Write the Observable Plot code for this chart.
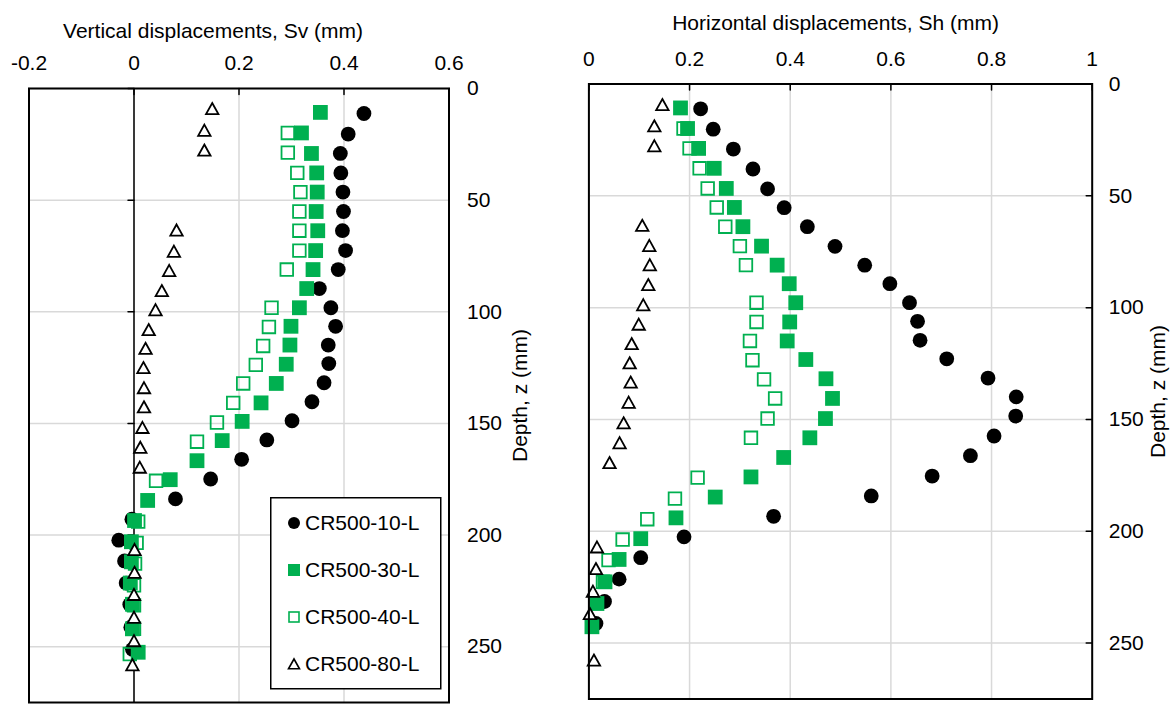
<!DOCTYPE html>
<html><head><meta charset="utf-8">
<script src="https://cdn.jsdelivr.net/npm/d3@7"></script>
<script src="https://cdn.jsdelivr.net/npm/@observablehq/plot@0.6"></script>
<style>
body{margin:0;background:#fff;}
#chart{position:relative;width:1175px;height:708px;font-family:"Liberation Sans",Arial,sans-serif;background:#fff;overflow:hidden;}
#left,#right{position:absolute;top:0;}
#left{left:0}#right{left:560px}
#legend{position:absolute;left:270px;top:497px;}
</style></head><body>
<div id="chart"><div id="left"></div><div id="right"></div><div id="legend"></div></div>
<script>
// ---------- data ----------
const seriesNames = ["CR500-10-L", "CR500-30-L", "CR500-40-L", "CR500-80-L"];

const svXTicks = [-0.2, 0, 0.2, 0.4, 0.6];
const svXLabels = ["-0.2", "0", "0.2", "0.4", "0.6"];
const shXTicks = [0, 0.2, 0.4, 0.6, 0.8, 1];
const shXLabels = ["0", "0.2", "0.4", "0.6", "0.8", "1"];
const depthTicks = [0, 50, 100, 150, 200, 250];
const depthLabels = ["0", "50", "100", "150", "200", "250"];

const svTitle = "Vertical displacements, Sv (mm)";
const shTitle = "Horizontal displacements, Sh (mm)";
const depthTitle = "Depth, z (mm)";

// Vertical displacements (left)
const sv10Depth = [11.2, 20.4, 29.1, 37.8, 46.4, 55.1, 63.7, 72.6, 81.1, 89.6, 98.2, 106.5, 114.9, 123.2, 131.8, 140.3, 148.8, 157.4, 166.1, 174.9, 183.8, 192.9, 202.3, 211.6, 221.5, 231.1, 241.3, 251.2];
const sv10 = [0.438, 0.408, 0.393, 0.394, 0.398, 0.399, 0.397, 0.403, 0.389, 0.353, 0.375, 0.384, 0.370, 0.371, 0.362, 0.339, 0.301, 0.253, 0.205, 0.146, 0.079, -0.004, -0.029, -0.018, -0.015, -0.008, -0.006, -0.003];
const sv30Depth = [10.7, 19.9, 29.1, 37.8, 46.4, 55.1, 63.7, 72.6, 81.1, 89.6, 98.2, 106.5, 114.9, 123.5, 132.1, 140.8, 149.1, 157.7, 166.7, 175.2, 184.5, 193.5, 203, 212, 221.5, 231, 242, 252.5];
const sv30 = [0.355, 0.319, 0.338, 0.348, 0.349, 0.347, 0.350, 0.346, 0.341, 0.329, 0.315, 0.299, 0.297, 0.290, 0.271, 0.242, 0.206, 0.168, 0.120, 0.069, 0.026, 0.001, -0.005, -0.005, -0.007, -0.003, -0.003, 0.008];
const sv40Depth = [19.9, 28.7, 37.8, 46.4, 55.1, 63.7, 72.6, 81.1, 98.2, 106.8, 115.3, 123.8, 132.1, 140.8, 149.6, 158.2, 175.7, 194, 203.5, 212.8, 222.5, 231.5, 242, 253.3];
const sv40 = [0.293, 0.293, 0.311, 0.317, 0.315, 0.315, 0.315, 0.291, 0.262, 0.257, 0.246, 0.232, 0.208, 0.189, 0.158, 0.120, 0.042, 0.008, 0.005, 0.002, 0.000, 0.000, 0.000, -0.008];
const sv80Depth = [9, 18.7, 27.6, 63.4, 72.9, 81.5, 90.5, 99.1, 108, 116.4, 125, 134, 142.6, 151.8, 160.7, 169.6, 206.5, 216.7, 226.6, 236.8, 247.3, 258.1];
const sv80 = [0.149, 0.134, 0.134, 0.081, 0.076, 0.067, 0.053, 0.041, 0.028, 0.022, 0.018, 0.019, 0.019, 0.016, 0.012, 0.011, 0.001, 0.001, 0.000, 0.000, 0.000, -0.003];

// Horizontal displacements (right)
const sh10Depth = [11.1, 20.2, 29.1, 38, 46.9, 55.3, 63.8, 72.6, 81, 89.3, 97.8, 106.1, 114.6, 122.9, 131.5, 139.9, 148.5, 157.4, 166.2, 175.3, 184.2, 193.3, 202.5, 211.8, 221.4, 231.4, 241.2];
const sh10 = [0.222, 0.247, 0.287, 0.326, 0.355, 0.388, 0.434, 0.489, 0.548, 0.598, 0.637, 0.653, 0.658, 0.711, 0.793, 0.849, 0.848, 0.805, 0.758, 0.682, 0.561, 0.367, 0.189, 0.103, 0.060, 0.031, 0.014];
const sh30Depth = [10.7, 19.9, 28.8, 37.7, 46.7, 55.2, 63.8, 72.5, 81, 89.3, 97.8, 106.4, 114.9, 123.2, 131.8, 140.6, 149.6, 158.2, 167, 175.7, 184.7, 194, 203.3, 212.6, 222.6, 232.3, 242.7];
const sh30 = [0.182, 0.196, 0.218, 0.249, 0.273, 0.289, 0.306, 0.343, 0.374, 0.398, 0.411, 0.399, 0.394, 0.431, 0.471, 0.484, 0.470, 0.439, 0.387, 0.322, 0.251, 0.173, 0.103, 0.060, 0.032, 0.016, 0.006];
const sh40Depth = [19.9, 28.8, 37.7, 46.7, 55.2, 63.8, 72.5, 81, 97.8, 106.4, 114.9, 123.5, 132.1, 140.6, 149.6, 158.2, 176, 185.4, 194.6, 203.7, 212.9, 222.6];
const sh40 = [0.188, 0.200, 0.220, 0.236, 0.254, 0.271, 0.300, 0.312, 0.333, 0.333, 0.320, 0.325, 0.348, 0.370, 0.355, 0.322, 0.216, 0.171, 0.116, 0.067, 0.039, 0.028];
const sh80Depth = [9.2, 18.7, 27.6, 63.2, 72.2, 80.8, 89.7, 98.7, 107.4, 116.1, 124.7, 133.3, 142.3, 151.5, 160.4, 169.3, 207, 216.7, 226.8, 236.8, 257.6];
const sh80 = [0.146, 0.130, 0.130, 0.106, 0.120, 0.121, 0.118, 0.108, 0.099, 0.085, 0.081, 0.083, 0.079, 0.069, 0.061, 0.041, 0.016, 0.014, 0.008, 0.002, 0.010];

// ---------- styling ----------
const FONT = '"Liberation Sans", Arial, sans-serif';
const FS = 21;
const green = "#00B050";
const gridColor = "#d9d9d9";

const squareSym = {draw(ctx, size) { const h = Math.sqrt(size) / 2; ctx.moveTo(-h, -h); ctx.lineTo(h, -h); ctx.lineTo(h, h); ctx.lineTo(-h, h); ctx.closePath(); }};
const triangleSym = {draw(ctx, size) { const w = Math.sqrt(size); const h = w * 0.9; ctx.moveTo(0, -h / 2); ctx.lineTo(w / 2, h / 2); ctx.lineTo(-w / 2, h / 2); ctx.closePath(); }};
const tickShape = {draw(ctx, l) { ctx.moveTo(0, 0); ctx.lineTo(0, -l); }};
const SQ = Math.sqrt(Math.PI);

function rows(depths, vals) { return depths.map((d, i) => ({depth: d, v: vals[i]})); }

function seriesMarks(s10, s30, s40, s80) {
  return [
    Plot.dot(s10, {x: "v", y: "depth", r: 7.4, symbol: "circle", fill: "black", stroke: "none"}),
    Plot.dot(s30, {x: "v", y: "depth", r: 14.8 / SQ, symbol: squareSym, fill: green, stroke: "none"}),
    Plot.dot(s40, {x: "v", y: "depth", r: 12.6 / SQ, symbol: squareSym, fill: "none", stroke: green, strokeWidth: 1.8}),
    Plot.dot(s80, {x: "v", y: "depth", r: 12.4 / SQ, symbol: triangleSym, fill: "white", stroke: "black", strokeWidth: 1.8})
  ];
}

const commonStyle = {fontFamily: FONT, fontSize: FS + "px", color: "black", background: "transparent", overflow: "visible"};

const left = Plot.plot({
  width: 560, height: 708,
  marginLeft: 28.5, marginRight: 111.5, marginTop: 88, marginBottom: 6,
  x: {domain: [-0.2, 0.6], axis: null},
  y: {domain: [0, 275], reverse: true, axis: null},
  style: commonStyle,
  marks: [
    Plot.gridX(svXTicks, {stroke: gridColor, strokeOpacity: 1, strokeWidth: 1.5}),
    Plot.gridY(depthTicks, {stroke: gridColor, strokeOpacity: 1, strokeWidth: 1.5}),
    Plot.ruleX([0], {stroke: "black", strokeWidth: 1.5}),
    Plot.vector(depthTicks, {x: 0, y: d => d, length: 6, rotate: -90, anchor: "start", shape: tickShape, stroke: "black", strokeWidth: 1.5}),
    Plot.vector(svXTicks, {x: d => d, frameAnchor: "top", length: 6, rotate: 180, anchor: "start", shape: tickShape, stroke: "black", strokeWidth: 1.5}),
    ...seriesMarks(rows(sv10Depth, sv10), rows(sv30Depth, sv30), rows(sv40Depth, sv40), rows(sv80Depth, sv80)),
    Plot.frame({stroke: "black", strokeWidth: 2}),
    Plot.text(svXLabels, {x: (d, i) => svXTicks[i], frameAnchor: "top", lineAnchor: "middle", dy: -25, text: d => d, fontSize: FS}),
    Plot.text(depthLabels, {y: (d, i) => depthTicks[i], frameAnchor: "right", dx: 18, textAnchor: "start", lineAnchor: "middle", text: d => d, fontSize: FS}),
    Plot.text([svTitle], {frameAnchor: "top", lineAnchor: "middle", textAnchor: "middle", dx: -26, dy: -57, text: d => d, fontSize: FS}),
    Plot.text([depthTitle], {frameAnchor: "right", textAnchor: "middle", lineAnchor: "middle", dx: 71, rotate: -90, text: d => d, fontSize: FS})
  ]
});
document.getElementById("left").appendChild(left);

const right = Plot.plot({
  width: 615, height: 708,
  marginLeft: 28.4, marginRight: 83.3, marginTop: 83.5, marginBottom: 9.5,
  x: {domain: [0, 1], axis: null},
  y: {domain: [0, 275], reverse: true, axis: null},
  style: commonStyle,
  marks: [
    Plot.gridX(shXTicks, {stroke: gridColor, strokeOpacity: 1, strokeWidth: 1.5}),
    Plot.gridY(depthTicks, {stroke: gridColor, strokeOpacity: 1, strokeWidth: 1.5}),
    Plot.vector(depthTicks, {x: 1, y: d => d, length: 6, rotate: -90, anchor: "start", shape: tickShape, stroke: "black", strokeWidth: 1.5}),
    Plot.vector(shXTicks, {x: d => d, frameAnchor: "top", length: 6, rotate: 180, anchor: "start", shape: tickShape, stroke: "black", strokeWidth: 1.5}),
    ...seriesMarks(rows(sh10Depth, sh10), rows(sh30Depth, sh30), rows(sh40Depth, sh40), rows(sh80Depth, sh80)),
    Plot.frame({stroke: "black", strokeWidth: 2}),
    Plot.text(shXLabels, {x: (d, i) => shXTicks[i], frameAnchor: "top", lineAnchor: "middle", dy: -25, text: d => d, fontSize: FS}),
    Plot.text(depthLabels, {y: (d, i) => depthTicks[i], frameAnchor: "right", dx: 16.5, textAnchor: "start", lineAnchor: "middle", text: d => d, fontSize: FS}),
    Plot.text([shTitle], {frameAnchor: "top", lineAnchor: "middle", textAnchor: "middle", dx: -5, dy: -61, text: d => d, fontSize: FS}),
    Plot.text([depthTitle], {frameAnchor: "right", textAnchor: "middle", lineAnchor: "middle", dx: 66.5, rotate: -90, text: d => d, fontSize: FS})
  ]
});
document.getElementById("right").appendChild(right);

// ---------- legend ----------
const lg = d3.select("#legend").append("svg")
  .attr("width", 172).attr("height", 194)
  .style("font-family", FONT).style("font-size", FS + "px");
lg.append("rect").attr("x", 0.75).attr("y", 0.75).attr("width", 170).attr("height", 191)
  .attr("fill", "white").attr("stroke", "black").attr("stroke-width", 1.5);
const rowY = [26, 73, 120, 167];
const mx = 24;
seriesNames.forEach((name, i) => {
  const g = lg.append("g").attr("transform", `translate(${mx},${rowY[i]})`);
  if (i === 0) g.append("circle").attr("r", 6).attr("fill", "black");
  if (i === 1) g.append("rect").attr("x", -6).attr("y", -6).attr("width", 12).attr("height", 12).attr("fill", green);
  if (i === 2) g.append("rect").attr("x", -5).attr("y", -5).attr("width", 10).attr("height", 10).attr("fill", "white").attr("stroke", green).attr("stroke-width", 1.6);
  if (i === 3) g.append("path").attr("d", "M0,-5 L5.5,4.8 L-5.5,4.8 Z").attr("fill", "white").attr("stroke", "black").attr("stroke-width", 1.6);
  lg.append("text").attr("x", 35).attr("y", rowY[i]).attr("dy", "0.35em").text(name);
});
</script>
</body></html>
